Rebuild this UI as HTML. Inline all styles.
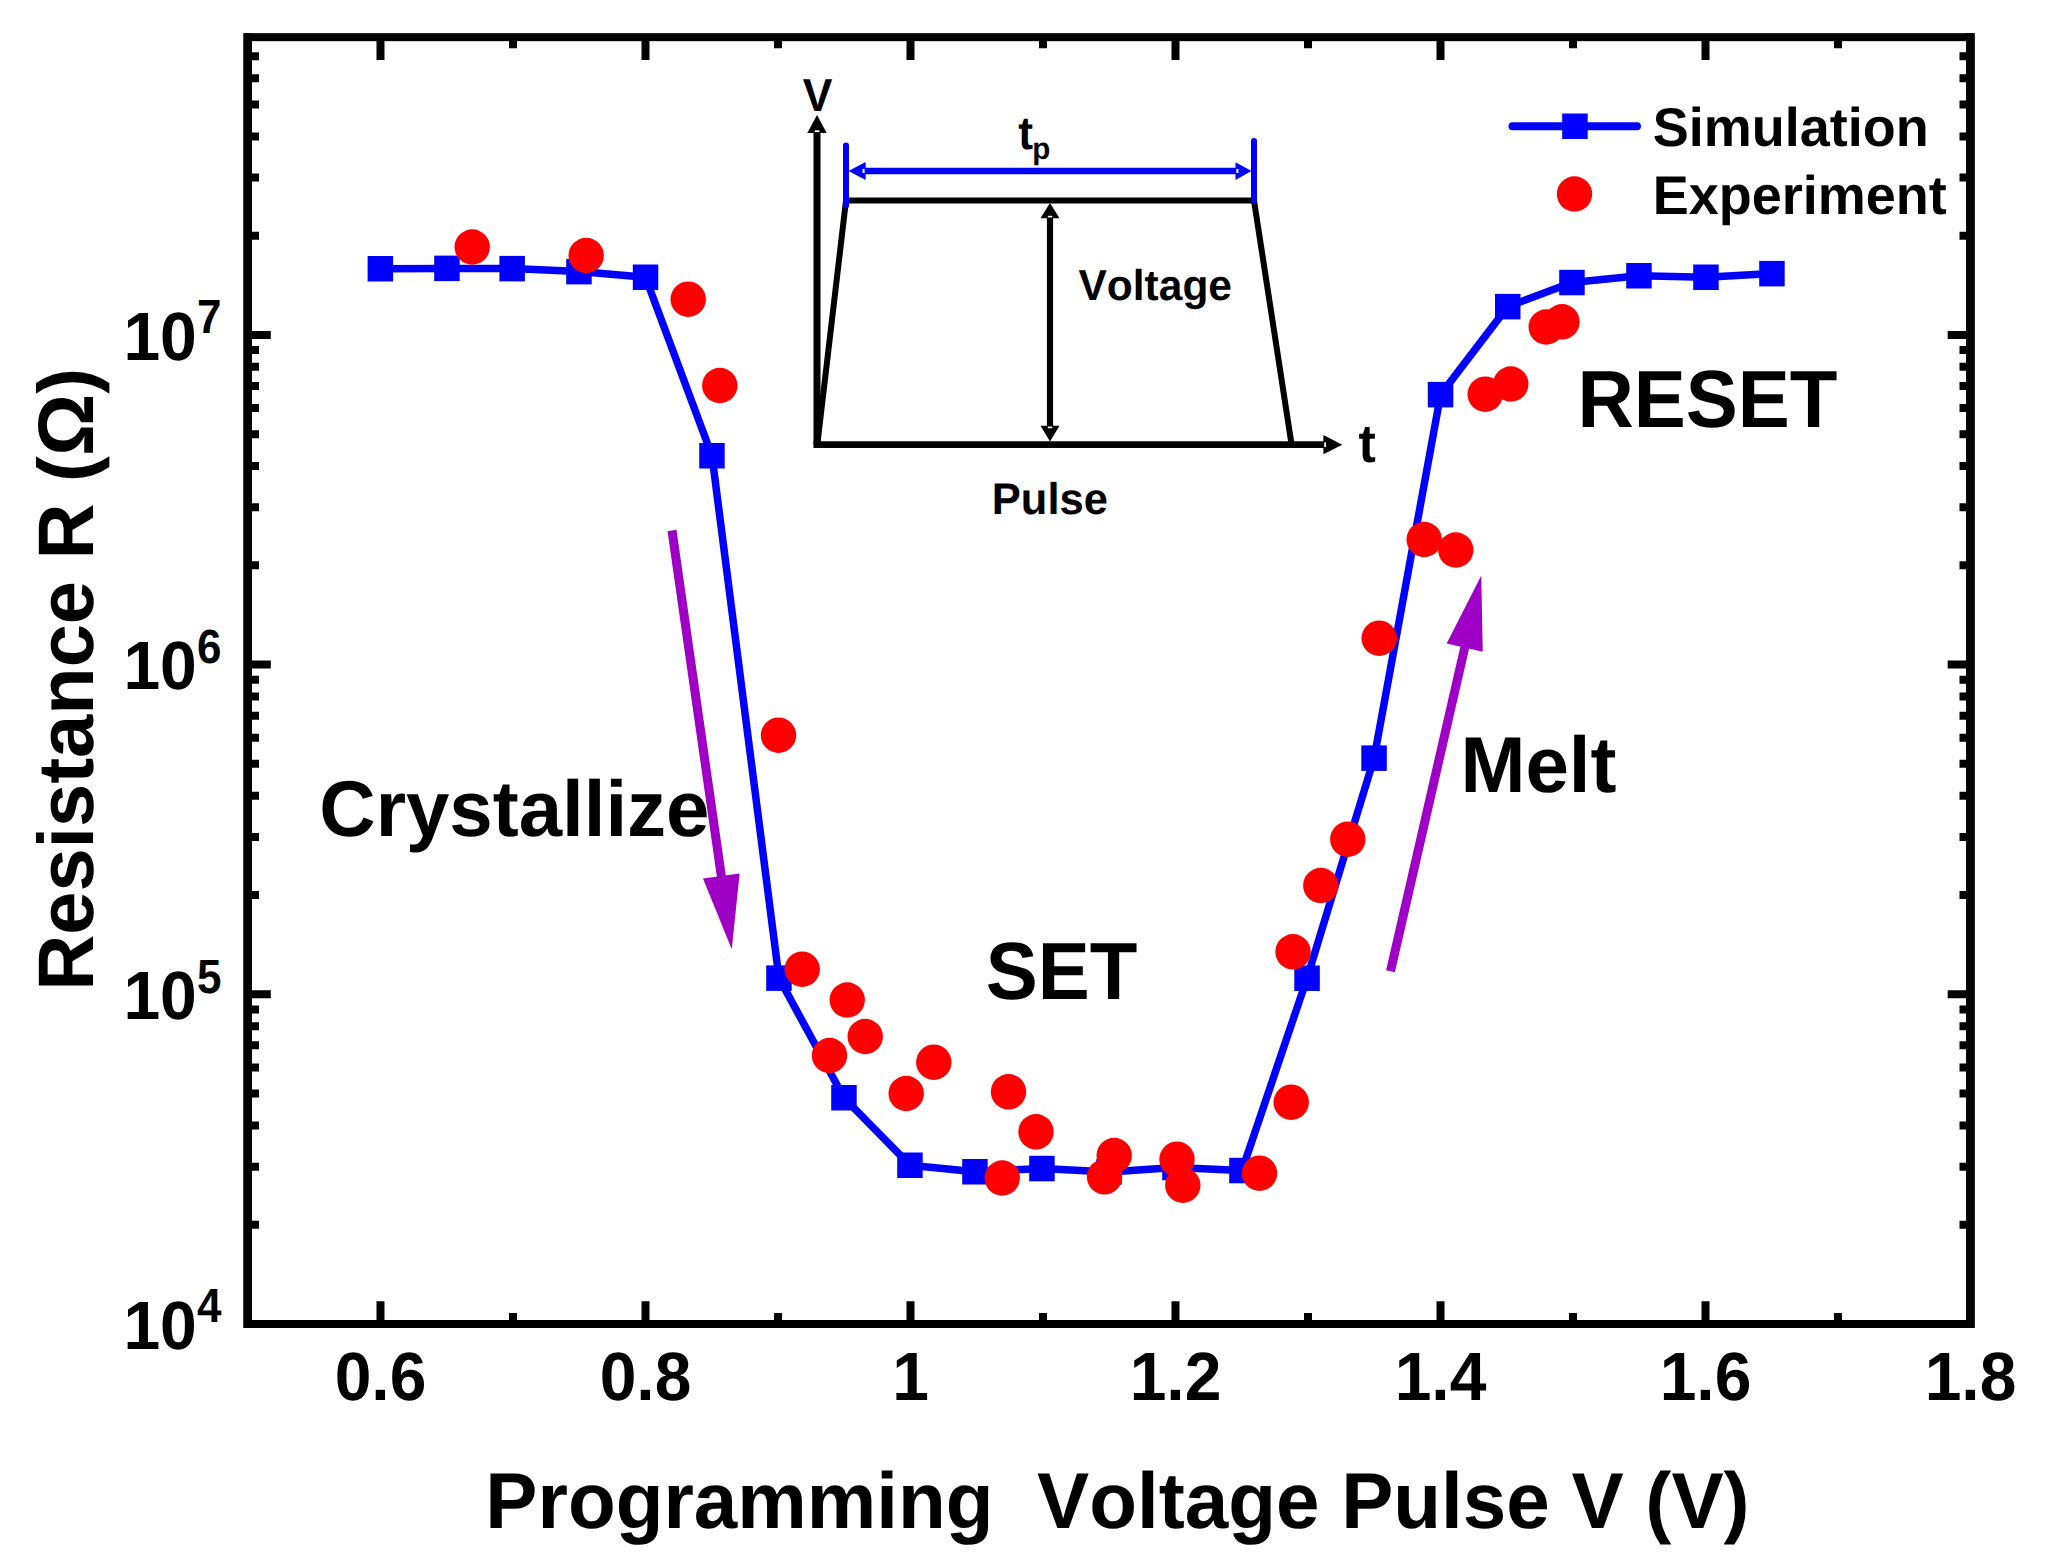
<!DOCTYPE html>
<html lang="en"><head><meta charset="utf-8"><title>Resistance vs Programming Voltage Pulse</title>
<style>html,body{margin:0;padding:0;background:#fff}svg{display:block}text{font-kerning:none;font-variant-ligatures:none;text-rendering:geometricPrecision;font-family:"Liberation Sans",Arial,Helvetica,sans-serif;font-weight:bold;fill:#000}</style>
</head><body>
<svg width="2052" height="1564" viewBox="0 0 2052 1564">
<rect x="0" y="0" width="2052" height="1564" fill="#fff"/>
<g stroke="#000" stroke-width="8" fill="none" stroke-linecap="butt">
<rect x="248.00" y="37.15" width="1722.50" height="1286.85"/>
<path d="M380.50 1324.00V1301.20M380.50 37.15V59.95M513.00 1324.00V1313.00M513.00 37.15V48.15M645.50 1324.00V1301.20M645.50 37.15V59.95M778.00 1324.00V1313.00M778.00 37.15V48.15M910.50 1324.00V1301.20M910.50 37.15V59.95M1043.00 1324.00V1313.00M1043.00 37.15V48.15M1175.50 1324.00V1301.20M1175.50 37.15V59.95M1308.00 1324.00V1313.00M1308.00 37.15V48.15M1440.50 1324.00V1301.20M1440.50 37.15V59.95M1573.00 1324.00V1313.00M1573.00 37.15V48.15M1705.50 1324.00V1301.20M1705.50 37.15V59.95M1838.00 1324.00V1313.00M1838.00 37.15V48.15M248.00 1224.75H259.00M1970.50 1224.75H1959.50M248.00 1166.69H259.00M1970.50 1166.69H1959.50M248.00 1125.50H259.00M1970.50 1125.50H1959.50M248.00 1093.55H259.00M1970.50 1093.55H1959.50M248.00 1067.44H259.00M1970.50 1067.44H1959.50M248.00 1045.37H259.00M1970.50 1045.37H1959.50M248.00 1026.25H259.00M1970.50 1026.25H1959.50M248.00 1009.39H259.00M1970.50 1009.39H1959.50M248.00 994.30H270.80M1970.50 994.30H1947.70M248.00 895.05H259.00M1970.50 895.05H1959.50M248.00 836.99H259.00M1970.50 836.99H1959.50M248.00 795.80H259.00M1970.50 795.80H1959.50M248.00 763.85H259.00M1970.50 763.85H1959.50M248.00 737.74H259.00M1970.50 737.74H1959.50M248.00 715.67H259.00M1970.50 715.67H1959.50M248.00 696.55H259.00M1970.50 696.55H1959.50M248.00 679.69H259.00M1970.50 679.69H1959.50M248.00 664.60H270.80M1970.50 664.60H1947.70M248.00 565.35H259.00M1970.50 565.35H1959.50M248.00 507.29H259.00M1970.50 507.29H1959.50M248.00 466.10H259.00M1970.50 466.10H1959.50M248.00 434.15H259.00M1970.50 434.15H1959.50M248.00 408.04H259.00M1970.50 408.04H1959.50M248.00 385.97H259.00M1970.50 385.97H1959.50M248.00 366.85H259.00M1970.50 366.85H1959.50M248.00 349.99H259.00M1970.50 349.99H1959.50M248.00 334.90H270.80M1970.50 334.90H1947.70M248.00 235.65H259.00M1970.50 235.65H1959.50M248.00 177.59H259.00M1970.50 177.59H1959.50M248.00 136.40H259.00M1970.50 136.40H1959.50M248.00 104.45H259.00M1970.50 104.45H1959.50M248.00 78.34H259.00M1970.50 78.34H1959.50M248.00 56.27H259.00M1970.50 56.27H1959.50"/>
<path d="M247.55 33.15V1328.00M1970.4 33.15V1328.00" stroke-width="8.6"/>
</g>
<text transform="translate(380.5 1400) scale(1 1.036)" font-size="66" text-anchor="middle">0.6</text>
<text transform="translate(645.5 1400) scale(1 1.036)" font-size="66" text-anchor="middle">0.8</text>
<text transform="translate(910.5 1400) scale(1 1.036)" font-size="66" text-anchor="middle">1</text>
<text transform="translate(1175.5 1400) scale(1 1.036)" font-size="66" text-anchor="middle">1.2</text>
<text transform="translate(1440.5 1400) scale(1 1.036)" font-size="66" text-anchor="middle">1.4</text>
<text transform="translate(1705.5 1400) scale(1 1.036)" font-size="66" text-anchor="middle">1.6</text>
<text transform="translate(1970.5 1400) scale(1 1.036)" font-size="66" text-anchor="middle">1.8</text>
<text transform="translate(123.4 1348.6) scale(1 1.036)" font-size="66">10</text>
<text transform="translate(197.1 1322.3) scale(1 1.087)" font-size="44">4</text>
<text transform="translate(123.4 1018.9) scale(1 1.036)" font-size="66">10</text>
<text transform="translate(197.1 992.6) scale(1 1.087)" font-size="44">5</text>
<text transform="translate(123.4 689.2) scale(1 1.036)" font-size="66">10</text>
<text transform="translate(197.1 662.9) scale(1 1.087)" font-size="44">6</text>
<text transform="translate(123.4 359.5) scale(1 1.036)" font-size="66">10</text>
<text transform="translate(197.1 333.2) scale(1 1.087)" font-size="44">7</text>
<text transform="translate(485.3 1527.7) scale(1 1.015)" font-size="78.2" xml:space="preserve" style="white-space:pre">Programming  Voltage Pulse V (V)</text>
<text transform="translate(93 990.8) rotate(-90) scale(1 1.015)" font-size="77.6">Resistance R (Ω)</text>
<polyline points="380.4,268.8 447.0,268.4 512.1,268.6 579.0,271.6 645.5,277.2 712.0,455.8 779.0,978.1 844.0,1097.8 910.0,1165.2 975.0,1171.8 1042.0,1168.5 1109.0,1172.0 1175.0,1167.5 1242.0,1170.5 1307.1,978.2 1374.1,758.1 1440.6,394.6 1507.8,306.6 1572.0,282.5 1639.0,275.8 1706.0,277.2 1772.0,273.6" fill="none" stroke="#0000ff" stroke-width="7.5" stroke-linejoin="round"/>
<g fill="#0000ff">
<rect x="367.6" y="256.0" width="25.5" height="25.5"/>
<rect x="434.2" y="255.6" width="25.5" height="25.5"/>
<rect x="499.4" y="255.9" width="25.5" height="25.5"/>
<rect x="566.2" y="258.9" width="25.5" height="25.5"/>
<rect x="632.8" y="264.5" width="25.5" height="25.5"/>
<rect x="699.2" y="443.0" width="25.5" height="25.5"/>
<rect x="766.2" y="965.4" width="25.5" height="25.5"/>
<rect x="831.2" y="1085.0" width="25.5" height="25.5"/>
<rect x="897.2" y="1152.5" width="25.5" height="25.5"/>
<rect x="962.2" y="1159.0" width="25.5" height="25.5"/>
<rect x="1029.2" y="1155.8" width="25.5" height="25.5"/>
<rect x="1096.2" y="1159.2" width="25.5" height="25.5"/>
<rect x="1162.2" y="1154.8" width="25.5" height="25.5"/>
<rect x="1229.2" y="1157.8" width="25.5" height="25.5"/>
<rect x="1294.3" y="965.5" width="25.5" height="25.5"/>
<rect x="1361.3" y="745.4" width="25.5" height="25.5"/>
<rect x="1427.8" y="381.9" width="25.5" height="25.5"/>
<rect x="1495.0" y="293.9" width="25.5" height="25.5"/>
<rect x="1559.2" y="269.8" width="25.5" height="25.5"/>
<rect x="1626.2" y="263.0" width="25.5" height="25.5"/>
<rect x="1693.2" y="264.5" width="25.5" height="25.5"/>
<rect x="1759.2" y="260.9" width="25.5" height="25.5"/>
</g>
<g fill="#ff0000">
<circle cx="472.2" cy="247.0" r="17.7"/>
<circle cx="586.2" cy="255.5" r="17.7"/>
<circle cx="688.2" cy="299.2" r="17.7"/>
<circle cx="719.8" cy="385.5" r="17.7"/>
<circle cx="778.5" cy="735.2" r="17.7"/>
<circle cx="802.2" cy="969.2" r="17.7"/>
<circle cx="847.2" cy="1000.0" r="17.7"/>
<circle cx="865.2" cy="1036.5" r="17.7"/>
<circle cx="829.5" cy="1055.5" r="17.7"/>
<circle cx="933.8" cy="1062.2" r="17.7"/>
<circle cx="906.2" cy="1093.5" r="17.7"/>
<circle cx="1008.5" cy="1091.8" r="17.7"/>
<circle cx="1036.0" cy="1131.8" r="17.7"/>
<circle cx="1002.2" cy="1178.0" r="17.7"/>
<circle cx="1114.2" cy="1155.5" r="17.7"/>
<circle cx="1104.5" cy="1176.8" r="17.7"/>
<circle cx="1177.0" cy="1159.2" r="17.7"/>
<circle cx="1182.8" cy="1185.2" r="17.7"/>
<circle cx="1259.5" cy="1173.2" r="17.7"/>
<circle cx="1291.2" cy="1102.2" r="17.7"/>
<circle cx="1293.0" cy="951.8" r="17.7"/>
<circle cx="1320.8" cy="885.5" r="17.7"/>
<circle cx="1347.8" cy="839.2" r="17.7"/>
<circle cx="1379.2" cy="638.2" r="17.7"/>
<circle cx="1424.2" cy="539.5" r="17.7"/>
<circle cx="1455.8" cy="550.0" r="17.7"/>
<circle cx="1485.2" cy="394.2" r="17.7"/>
<circle cx="1510.8" cy="384.0" r="17.7"/>
<circle cx="1546.2" cy="327.0" r="17.7"/>
<circle cx="1562.0" cy="321.8" r="17.7"/>
</g>
<line x1="1512.5" y1="126.2" x2="1637" y2="126.2" stroke="#0000ff" stroke-width="8" stroke-linecap="round"/>
<rect x="1562.2" y="113.5" width="25.5" height="25.5" fill="#0000ff"/>
<circle cx="1574.5" cy="194" r="17.7" fill="#ff0000"/>
<text transform="translate(1652.7 145.6) scale(1 1.01)" font-size="54">Simulation</text>
<text transform="translate(1652.7 214) scale(1 1.01)" font-size="54">Experiment</text>
<text transform="translate(1577.4 427) scale(1 1.04)" font-size="78">RESET</text>
<text transform="translate(985.7 999.3) scale(1 1.04)" font-size="78">SET</text>
<text transform="translate(1460.5 791.7) scale(1 1.015)" font-size="78">Melt</text>
<text transform="translate(319.3 835.8) scale(1 1.015)" font-size="78">Crystallize</text>
<line x1="672.00" y1="530.50" x2="721.58" y2="877.97" stroke="#9e00c6" stroke-width="9"/><polygon points="731.75,949.25 702.98,878.61 739.61,873.38" fill="#9e00c6"/>
<line x1="1390.50" y1="971.25" x2="1465.16" y2="645.68" stroke="#9e00c6" stroke-width="9"/><polygon points="1481.25,575.50 1482.74,651.76 1446.68,643.49" fill="#9e00c6"/>
<g stroke="#000" fill="none">
<path d="M817 444.7V130" stroke-width="7"/>
<path d="M813.5 444.7H1326" stroke-width="6.8"/>
<path d="M817.5 443L846 200.5H1254L1291.5 444" stroke-width="6" stroke-linejoin="miter"/>
<path d="M1050 215V429" stroke-width="6.2"/>
</g>
<g fill="#000">
<polygon points="817,115 807.3,133 826.7,133"/>
<polygon points="1342.3,444.7 1323.4,435.1 1323.4,454.3"/>
<polygon points="1050,203 1040.5,218.3 1059.5,218.3"/>
<polygon points="1050,441.5 1040.5,425.7 1059.5,425.7"/>
</g>
<g stroke="#0000ff" fill="none" stroke-linecap="round">
<path d="M846 145.5V205.5M1254 141V200.5" stroke-width="6"/>
<path d="M862 171H1238" stroke-width="6.5" stroke-linecap="butt"/>
</g>
<g fill="#0000ff">
<polygon points="848.5,171 865.6,162 865.6,180"/>
<polygon points="1251.5,171 1235.5,162.3 1235.5,180"/>
</g>
<text transform="translate(802.7 110.8) scale(1 1.04)" font-size="44.5">V</text>
<text transform="translate(1358.6 462) scale(1 1.03)" font-size="52">t</text>
<text transform="translate(1018.3 148.7) scale(1 1.04)" font-size="44.5">t<tspan font-size="29.5" dx="-1" dy="10.3">p</tspan></text>
<text transform="translate(1078.5 300) scale(1 1.015)" font-size="42.5">Voltage</text>
<text transform="translate(991.8 513.7) scale(1 1.02)" font-size="43.5">Pulse</text>
<g fill="#fff">
<rect x="814.8" y="130.3" width="4.6" height="1.8"/>
<rect x="1324.2" y="442.4" width="1.8" height="4.6"/>
<rect x="1047.8" y="215.8" width="4.4" height="1.6"/>
<rect x="1047.8" y="426.6" width="4.4" height="1.6"/>
<rect x="862.6" y="169" width="2" height="4"/>
<rect x="1236.4" y="169" width="2" height="4"/>
</g>
</svg>
</body></html>
